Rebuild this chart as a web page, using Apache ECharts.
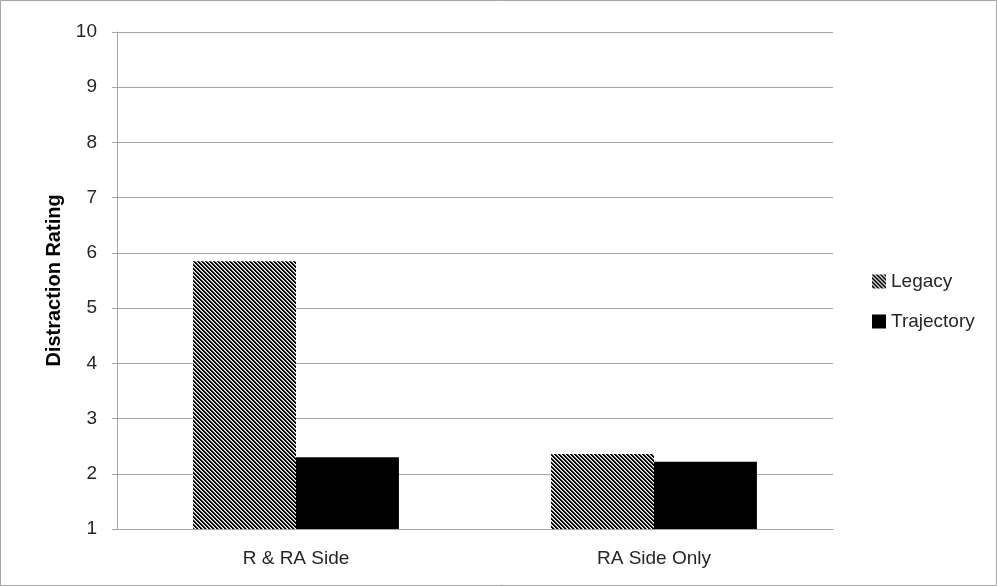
<!DOCTYPE html>
<html><head><meta charset="utf-8">
<script src="https://cdn.jsdelivr.net/npm/echarts@6/dist/echarts.min.js"></script>
<style>html,body{margin:0;padding:0;background:#fff}#c{width:997px;height:586px}</style>
</head><body><div id="c"></div>
<script>
const categories = ['R & RA Side', 'RA Side Only'];
const legacy = [5.85, 2.36];
const trajectory = [2.30, 2.22];
const yTicks = [1,2,3,4,5,6,7,8,9,10];

function stripe(){
  const c = document.createElement('canvas');
  c.width = 4; c.height = 4;
  const g = c.getContext('2d');
  g.fillStyle = '#fff'; g.fillRect(0,0,4,4);
  g.fillStyle = '#000';
  for (let i=0;i<4;i++){ g.fillRect(i,i,1,1); g.fillRect((i+1)%4,i,1,1); }
  g.fillStyle = '#999';
  for (let i=0;i<4;i++){ g.fillRect((i+2)%4,i,1,1); }
  return c;
}
const pat = {image: stripe(), repeat: 'repeat'};
const font = 'Liberation Sans';
const chart = echarts.init(document.getElementById('c'));
chart.setOption({
  animation:false,
  textStyle:{fontFamily:font},
  graphic:[{type:'rect',shape:{x:0.5,y:0.5,width:996,height:585},style:{fill:'none',stroke:'#a6a6a6',lineWidth:1}}],
  grid:{left:117,right:164,top:32,bottom:57},
  legend:{orient:'vertical',left:867,top:267,itemGap:21,itemWidth:14,itemHeight:14,
    textStyle:{fontSize:19,color:'#262626',fontFamily:font,padding:[0,0,0,0]},
    data:[{name:'Legacy',icon:'rect'},{name:'Trajectory',icon:'rect'}]},
  xAxis:{type:'category',data:categories,
    axisLine:{lineStyle:{color:'#a6a6a6'}},axisTick:{show:false},
    axisLabel:{fontSize:19,color:'#262626',margin:20}},
  yAxis:{type:'value',min:1,max:10,interval:1,
    name:'Distraction Rating',nameLocation:'middle',nameGap:53,
    nameTextStyle:{fontSize:20,fontWeight:'bold',color:'#000'},
    axisLine:{show:true,lineStyle:{color:'#a6a6a6'}},
    axisTick:{show:true,length:5,lineStyle:{color:'#a6a6a6'}},
    axisLabel:{fontSize:19,color:'#262626',margin:20},
    splitLine:{lineStyle:{color:'#a6a6a6'}}},
  series:[
    {name:'Legacy',type:'bar',data:legacy,barGap:'0%',barCategoryGap:'42.5%',
      itemStyle:{color:pat}},
    {name:'Trajectory',type:'bar',data:trajectory,barGap:'0%',barCategoryGap:'42.5%',
      itemStyle:{color:'#000'}}
  ]
});
</script></body></html>
